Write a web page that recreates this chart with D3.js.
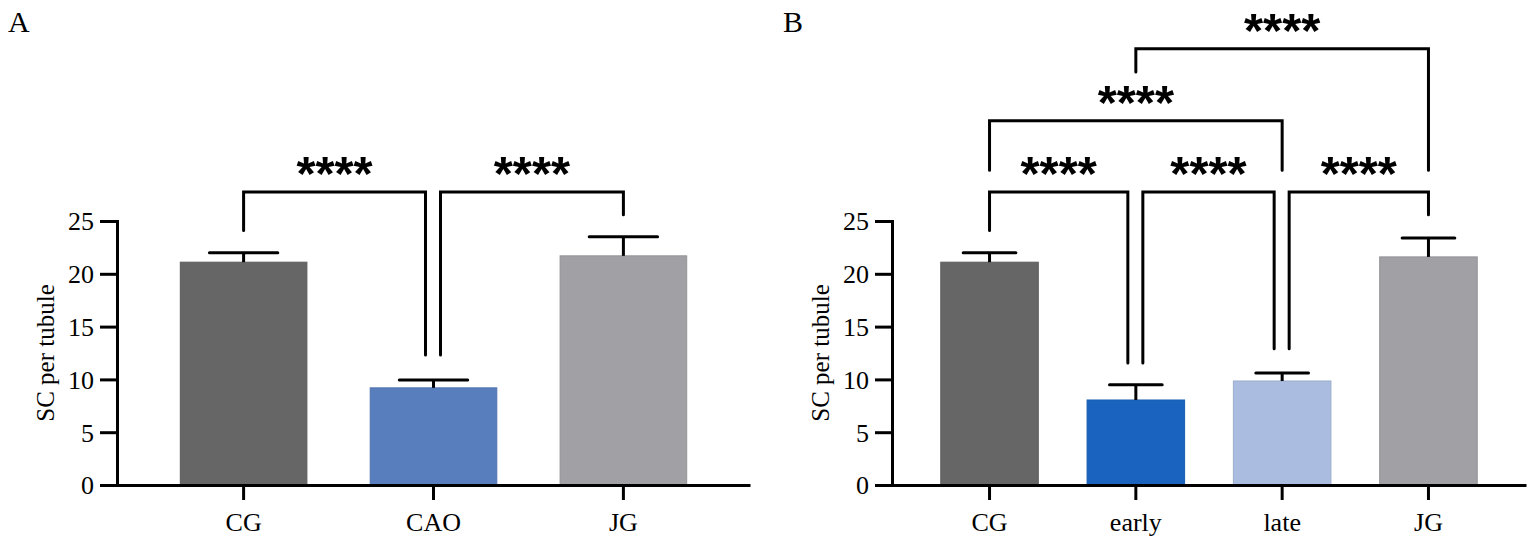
<meta charset="utf-8">
<script src="https://cdn.jsdelivr.net/npm/d3@7"></script>
<style>
  body { margin: 0; background: #fff; }
  .tick text, .lbl { font-family: "Liberation Serif", "Times New Roman", serif; fill: #000; }
  .stars { font-family: "Liberation Sans", Arial, sans-serif; font-weight: bold; fill: #000; }
</style>
<div id="chart"></div>
<script>
// Panel A
var groupsA = ["CG", "CAO", "JG"];
var meansA = [21.1, 9.2, 21.7];
var errA = [22.0, 9.95, 23.5];          // top of error bar (mean + SEM)
var colorsA = ["#666666", "#587ebe", "#a0a0a5"];
// comparisons: [from, to, bracket level, leg bottom left, leg bottom right, inset]
var compsA = [
  ["CG", "CAO", 27.75, 24.1, 12.3, true],
  ["CAO", "JG", 27.75, 12.3, 25.6, true]
];

// Panel B
var groupsB = ["CG", "early", "late", "JG"];
var meansB = [21.1, 8.05, 9.85, 21.6];
var errB = [22.0, 9.5, 10.6, 23.4];
var colorsB = ["#666666", "#1a64bf", "#aabde1", "#a0a0a5"];
var compsB = [
  ["CG", "early", 27.75, 24.1, 11.55, true],
  ["early", "late", 27.75, 11.55, 12.9, true],
  ["late", "JG", 27.75, 12.9, 25.6, true],
  ["CG", "late", 34.5, 29.8, 29.8, false],
  ["early", "JG", 41.3, 39.1, 29.8, false]
];

var yTicks = [0, 5, 10, 15, 20, 25];
var yLabel = "SC per tubule";
var starText = "****";

var svg = d3.select("#chart").append("svg")
  .attr("width", 1535)
  .attr("height", 545);

var y = d3.scaleLinear().domain([0, 25]).range([485, 221]);

function drawPanel(letter, groups, means, errs, colors, comps, left, right)
{
  var g = svg.append("g");

  var x = d3.scaleBand()
    .domain(groups)
    .range([left, right])
    .paddingInner(1/3)
    .paddingOuter(1/3);
  var bw = x.bandwidth();
  var cx = function(k) { return x(k) + bw / 2; };

  // bars
  g.selectAll("rect.bar")
    .data(groups)
    .enter()
    .append("rect")
      .attr("x", function(d) { return x(d); })
      .attr("y", function(d, i) { return y(means[i]); })
      .attr("width", bw)
      .attr("height", function(d, i) { return y(0) - y(means[i]); })
      .attr("fill", function(d, i) { return colors[i]; })
      .attr("stroke", function(d, i) { return d3.color(colors[i]).darker(0.25); })
      .attr("stroke-width", 1);

  // error bars (upper only)
  g.selectAll("line.err")
    .data(groups)
    .enter()
    .append("line")
      .attr("x1", cx).attr("x2", cx)
      .attr("y1", function(d, i) { return y(means[i]); })
      .attr("y2", function(d, i) { return y(errs[i]); })
      .attr("stroke", "#000").attr("stroke-width", 3);

  g.selectAll("line.cap")
    .data(groups)
    .enter()
    .append("line")
      .attr("x1", function(d) { return cx(d) - bw * 0.27; })
      .attr("x2", function(d) { return cx(d) + bw * 0.27; })
      .attr("y1", function(d, i) { return y(errs[i]); })
      .attr("y2", function(d, i) { return y(errs[i]); })
      .attr("stroke", "#000").attr("stroke-width", 3)
      .attr("stroke-linecap", "round");

  // y axis
  var yAxis = g.append("g")
    .attr("transform", "translate(" + left + ",0)")
    .call(d3.axisLeft(y).tickValues(yTicks).tickSize(17).tickSizeOuter(0).tickPadding(6));
  yAxis.selectAll("line, path").attr("stroke", "#000").attr("stroke-width", 3);
  yAxis.select(".domain").attr("stroke-linecap", "square");
  yAxis.selectAll("text").attr("font-size", 26).attr("dy", "0.34em");

  // x axis
  var xAxis = g.append("g")
    .attr("transform", "translate(0," + y(0) + ")")
    .call(d3.axisBottom(x).tickSize(15).tickSizeOuter(0).tickPadding(12));
  xAxis.selectAll("line, path").attr("stroke", "#000").attr("stroke-width", 3);
  xAxis.selectAll("text").attr("font-size", 26).attr("dy", "0.72em");

  // y label
  g.append("text")
    .attr("class", "lbl")
    .attr("transform", "translate(" + (left - 63) + "," + ((y(0) + y(25)) / 2) + ") rotate(-90)")
    .attr("text-anchor", "middle")
    .attr("font-size", 25)
    .text(yLabel);

  // panel letter
  g.append("text")
    .attr("class", "lbl")
    .attr("x", left - 109)
    .attr("y", 32)
    .attr("font-size", 30)
    .text(letter);

  // significance brackets
  comps.forEach(function(c) {
    var x1 = cx(c[0]), x2 = cx(c[1]);
    if (c[5]) {
      if (groups.indexOf(c[0]) > 0) x1 += 7;
      if (groups.indexOf(c[1]) < groups.length - 1) x2 -= 8;
    }
    var yb = y(c[2]);
    g.append("path")
      .attr("d", d3.line()([[x1, y(c[3])], [x1, yb], [x2, yb], [x2, y(c[4])]]))
      .attr("fill", "none")
      .attr("stroke", "#000")
      .attr("stroke-width", 3)
      .attr("stroke-linecap", "round");
    g.append("text")
      .attr("class", "stars")
      .attr("x", (x1 + x2) / 2)
      .attr("y", yb - 2)
      .attr("text-anchor", "middle")
      .attr("font-size", 49)
      .text(starText);
  });
}

drawPanel("A", groupsA, meansA, errA, colorsA, compsA, 117, 750);
drawPanel("B", groupsB, meansB, errB, colorsB, compsB, 892, 1526);
</script>
